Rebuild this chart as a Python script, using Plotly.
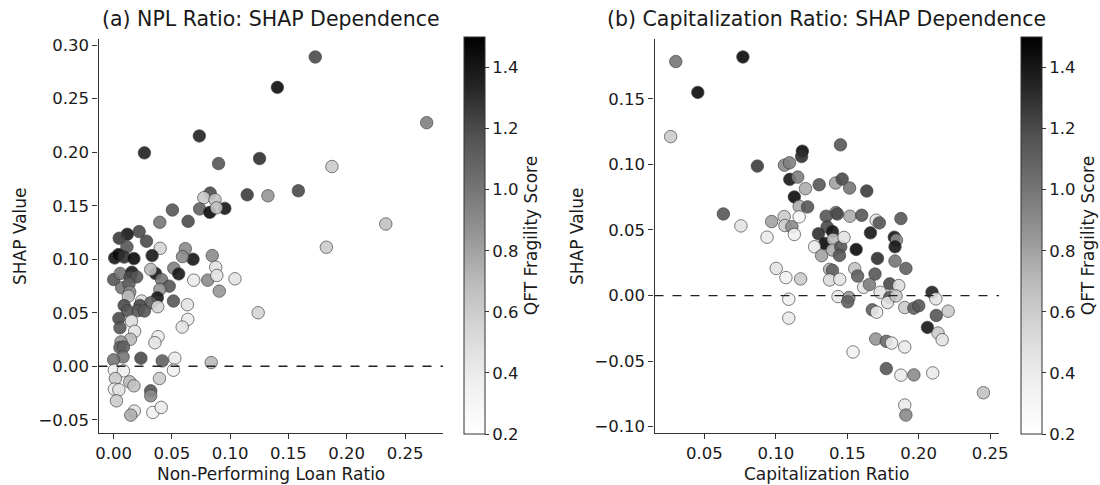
import plotly.graph_objects as go

# ---------------- data: panel (a) NPL ratio ----------------
npl_x = [0.173, 0.1405, 0.2686, 0.0735, 0.0264, 0.1252, 0.090, 0.1873, 0.1146, 0.1585,
         0.1324, 0.0828, 0.0774, 0.0870, 0.0738, 0.0825, 0.0954, 0.0882, 0.0504, 0.0639,
         0.0396, 0.2335, 0.0219, 0.0117, 0.0048, 0.0282, 0.0114, 0.1825, 0.0399, 0.0615,
         0.0009, 0.0042, 0.009, 0.0174, 0.033, 0.0681, 0.0591, 0.0846, 0.0, 0.0057,
         0.0156, 0.0141, 0.0198, 0.036, 0.0318, 0.0411, 0.0516, 0.0558, 0.0477, 0.0687,
         0.0807, 0.0876, 0.0885, 0.1041, 0.0906, 0.0069, 0.0132, 0.0138, 0.0126, 0.0396,
         0.0375, 0.024, 0.0318, 0.0513, 0.0633, 0.0378, 0.009, 0.012, 0.0225, 0.021,
         0.0264, 0.124, 0.0045, 0.0054, 0.0153, 0.018, 0.0144, 0.0636, 0.0588, 0.0381,
         0.0354, 0.0063, 0.0054, 0.0084, 0.0081, 0.0, 0.0234, 0.0417, 0.0525, 0.0837,
         0.0006, 0.0084, 0.0513, 0.0015, 0.0138, 0.0174, 0.0393, 0.0006, 0.0045, 0.0318,
         0.0318, 0.0024, 0.0177, 0.0147, 0.0336, 0.0408]
npl_shap = [0.289, 0.2606, 0.2276, 0.2152, 0.1994, 0.1941, 0.1894, 0.1866, 0.1602, 0.164,
            0.1593, 0.1618, 0.1575, 0.1556, 0.147, 0.1438, 0.1475, 0.148, 0.146, 0.1354,
            0.1345, 0.1329, 0.1258, 0.1233, 0.1196, 0.1168, 0.1115, 0.1112, 0.1102, 0.1099,
            0.1012, 0.1043, 0.102, 0.1006, 0.1034, 0.100, 0.1025, 0.1034, 0.081, 0.0866,
            0.0879, 0.0832, 0.0835, 0.0866, 0.0904, 0.081, 0.0916, 0.0863, 0.0748, 0.0804,
            0.0804, 0.0925, 0.0848, 0.0817, 0.0702, 0.0733, 0.077, 0.0693, 0.0655, 0.0717,
            0.064, 0.0609, 0.0593, 0.0609, 0.0575, 0.0556, 0.0568, 0.0519, 0.0568, 0.0519,
            0.0516, 0.050, 0.0447, 0.036, 0.0422, 0.0326, 0.0252, 0.0438, 0.0366, 0.0276,
            0.022, 0.0227, 0.0174, 0.018, 0.0087, 0.006, 0.0075, 0.005, 0.0075, 0.0034,
            -0.0037, -0.0043, -0.0037, -0.0115, -0.0146, -0.0183, -0.0115, -0.0214, -0.022, -0.023,
            -0.0276, -0.0323, -0.0419, -0.0457, -0.0432, -0.0385]
npl_qft = [1.2, 1.45, 0.95, 1.35, 1.35, 1.3, 1.15, 0.6, 1.25, 1.2,
           0.85, 1.2, 0.6, 0.65, 1.1, 1.45, 1.4, 0.65, 1.15, 1.2,
           1.0, 0.65, 1.2, 1.4, 1.25, 1.2, 1.15, 0.6, 0.55, 0.9,
           1.4, 1.45, 1.3, 1.45, 1.4, 1.4, 0.9, 0.9, 1.15, 1.0,
           1.4, 1.2, 1.15, 1.4, 0.7, 1.0, 0.95, 1.4, 1.15, 0.4,
           0.9, 0.45, 0.45, 0.45, 0.85, 1.0, 1.1, 0.9, 0.7, 0.85,
           1.4, 0.5, 1.1, 1.15, 0.45, 0.55, 1.2, 1.15, 1.2, 1.15,
           1.15, 0.55, 1.2, 1.15, 0.5, 0.45, 0.7, 0.4, 0.45, 0.4,
           0.45, 0.85, 1.1, 1.1, 1.0, 1.0, 1.2, 1.1, 0.4, 0.7,
           0.35, 0.35, 0.35, 0.6, 0.7, 0.65, 0.6, 0.4, 0.45, 1.15,
           0.9, 0.6, 0.45, 0.75, 0.35, 0.4]

# ---------------- data: panel (b) capitalization ratio ----------------
cap_x = [0.0299, 0.0769, 0.0453, 0.0263, 0.087, 0.0632, 0.0755, 0.0938, 0.097, 0.1002,
         0.107, 0.1173, 0.109, 0.109, 0.106, 0.1095, 0.1185, 0.118, 0.1097, 0.1153,
         0.1207, 0.1129, 0.1163, 0.1222, 0.1058, 0.1063, 0.1112, 0.1163, 0.1129, 0.1303,
         0.1418, 0.1464, 0.1452, 0.1516, 0.1636, 0.142, 0.143, 0.1352, 0.1359, 0.1298,
         0.1396, 0.1342, 0.1401, 0.1271, 0.132, 0.1396, 0.1454, 0.1477, 0.1445, 0.1562,
         0.1518, 0.1601, 0.1702, 0.1724, 0.1662, 0.1829, 0.1844, 0.1834, 0.1875, 0.1711,
         0.1834, 0.1910, 0.1376, 0.1396, 0.1376, 0.1447, 0.1552, 0.1572, 0.1694, 0.1614,
         0.1655, 0.1797, 0.186, 0.173, 0.1797, 0.1782, 0.1841, 0.1435, 0.1511, 0.1503,
         0.1675, 0.1705, 0.1902, 0.1966, 0.2, 0.2093, 0.212, 0.2123, 0.2206, 0.2061,
         0.2135, 0.2164, 0.1699, 0.1773, 0.181, 0.1902, 0.154, 0.1773, 0.1875, 0.1966,
         0.2098, 0.2453, 0.1902, 0.1910]
cap_shap = [0.1784, 0.1819, 0.1549, 0.1212, 0.0987, 0.0622, 0.0531, 0.0445, 0.0564, 0.0207,
            0.0137, 0.0127, -0.0028, -0.0172, 0.0994, 0.1012, 0.1101, 0.106, 0.0886, 0.0903,
            0.0815, 0.0752, 0.0681, 0.0676, 0.0602, 0.0534, 0.0524, 0.06, 0.0466, 0.0845,
            0.0858, 0.0888, 0.1149, 0.082, 0.0797, 0.0633, 0.0622, 0.0605, 0.0524, 0.0471,
            0.0488, 0.0397, 0.0428, 0.0372, 0.0304, 0.0347, 0.0372, 0.0443, 0.0306, 0.0352,
            0.0605, 0.0612, 0.0574, 0.0554, 0.0478, 0.0445, 0.0423, 0.0372, 0.0587, 0.0283,
            0.0263, 0.0207, 0.020, 0.0192, 0.0119, 0.0124, 0.0205, 0.0149, 0.0164, 0.0063,
            0.0084, 0.0089, 0.0076, 0.0025, -0.0015, -0.0053, -0.0003, -0.0008, -0.0015, -0.0048,
            -0.0109, -0.0127, -0.0091, -0.0096, -0.0078, 0.0025, -0.0025, -0.0152, -0.0119, -0.0243,
            -0.0286, -0.0337, -0.0331, -0.0349, -0.0362, -0.0392, -0.043, -0.0557, -0.0607, -0.0605,
            -0.059, -0.0741, -0.0835, -0.0911]
cap_qft = [1.0, 1.45, 1.45, 0.6, 1.25, 1.15, 0.45, 0.4, 0.8, 0.45,
           0.35, 0.6, 0.35, 0.4, 0.9, 0.95, 1.45, 1.3, 1.4, 0.95,
           0.75, 1.45, 0.75, 1.15, 0.6, 0.6, 0.9, 0.3, 0.35, 1.15,
           0.8, 1.2, 1.15, 1.0, 1.25, 1.0, 1.2, 1.15, 1.2, 1.3,
           1.4, 1.45, 0.7, 0.4, 0.8, 0.75, 1.15, 0.45, 1.15, 1.45,
           0.75, 1.15, 0.45, 1.15, 1.4, 1.4, 0.9, 1.4, 1.15, 1.3,
           1.0, 1.1, 0.7, 1.1, 0.5, 0.45, 0.65, 1.1, 1.15, 0.45,
           0.95, 1.2, 0.5, 0.45, 1.15, 0.45, 0.6, 0.4, 0.85, 1.1,
           1.1, 0.4, 0.6, 1.1, 1.15, 1.35, 0.45, 1.15, 0.6, 1.4,
           0.6, 0.45, 0.85, 1.05, 0.4, 0.4, 0.35, 1.15, 0.4, 0.9,
           0.4, 0.65, 0.4, 0.9]

titles = ["(a) NPL Ratio: SHAP Dependence", "(b) Capitalization Ratio: SHAP Dependence"]
x_titles = ["Non-Performing Loan Ratio", "Capitalization Ratio"]
y_title = "SHAP Value"
cb_title = "QFT Fragility Score"
cb_ticks = [0.2, 0.4, 0.6, 0.8, 1.0, 1.2, 1.4]
npl_xticks = [0.0, 0.05, 0.10, 0.15, 0.20, 0.25]
npl_yticks = [-0.05, 0.0, 0.05, 0.10, 0.15, 0.20, 0.25, 0.30]
cap_xticks = [0.05, 0.10, 0.15, 0.20, 0.25]
cap_yticks = [-0.10, -0.05, 0.0, 0.05, 0.10, 0.15]

# ---------------- layout helpers ----------------
W, H = 1100, 485
FONT = "DejaVu Sans"
TXT = "#1a1a1a"
greys = [[0, "#ffffff"], [0.125, "#f0f0f0"], [0.25, "#d9d9d9"], [0.375, "#bdbdbd"],
         [0.5, "#969696"], [0.625, "#737373"], [0.75, "#525252"], [0.875, "#252525"],
         [1, "#000000"]]

def px_x(p):
    return p / W

def px_y(p):
    return 1 - p / H

top_px, bot_px = 39, 433
dom_a = [px_x(98.5), px_x(443)]
dom_b = [px_x(654.5), px_x(999)]
dom_y = [px_y(bot_px), px_y(top_px)]

def cbar(xpix):
    return dict(
        x=px_x(xpix), xanchor="left", xpad=0,
        y=px_y(37), yanchor="top", ypad=0,
        len=(bot_px + 1 - 37) / H, lenmode="fraction",
        thickness=21, thicknessmode="pixels",
        outlinewidth=1, outlinecolor="#333",
        tickvals=cb_ticks, tickformat=".1f",
        ticks="outside", ticklen=4, tickwidth=1, tickcolor="#333",
        tickfont=dict(family=FONT, size=16.5, color=TXT),
        title=dict(text=cb_title, side="right", font=dict(family=FONT, size=17, color=TXT)),
    )

def mk(x, y, c, xa, ya, cbx):
    return go.Scatter(
        x=x, y=y, mode="markers", xaxis=xa, yaxis=ya, showlegend=False,
        marker=dict(size=12.5, color=c, colorscale=greys, cmin=0.2, cmax=1.5,
                    opacity=0.9, line=dict(color="#333333", width=0.7),
                    showscale=True, colorbar=cbar(cbx)),
    )

fig = go.Figure()
fig.add_trace(mk(npl_x, npl_shap, npl_qft, "x", "y", 464))
fig.add_trace(mk(cap_x, cap_shap, cap_qft, "x2", "y2", 1021))

def axis(domain, rng, ticks, anchor):
    return dict(
        domain=domain, range=rng, anchor=anchor, tickvals=ticks, tickformat=".2f",
        showline=True, linecolor="#333", linewidth=1.2, mirror=False,
        ticks="outside", ticklen=5, tickwidth=1.2, tickcolor="#333",
        showgrid=False, zeroline=False, automargin=False,
        tickfont=dict(family=FONT, size=16.5, color=TXT),
    )

fig.update_layout(
    width=W, height=H, template="none",
    paper_bgcolor="white", plot_bgcolor="white",
    margin=dict(l=0, r=0, t=0, b=0, autoexpand=False),
    font=dict(family=FONT, color=TXT),
    xaxis=axis(dom_a, [-0.0130, 0.2826], npl_xticks, "y"),
    yaxis=axis(dom_y, [-0.0624, 0.3058], npl_yticks, "x"),
    xaxis2=axis(dom_b, [0.0150, 0.2562], cap_xticks, "y2"),
    yaxis2=axis(dom_y, [-0.1048, 0.1956], cap_yticks, "x2"),
)

# dashed zero lines
for xr, yr in (("x domain", "y"), ("x2 domain", "y2")):
    fig.add_shape(type="line", xref=xr, yref=yr, x0=0, x1=1, y0=0, y1=0,
                  line=dict(color="#222", width=1.3, dash="dash"))

ann = []
for dom, t, xt in ((dom_a, titles[0], x_titles[0]), (dom_b, titles[1], x_titles[1])):
    cx = (dom[0] + dom[1]) / 2
    ann.append(dict(text=t, x=cx, y=px_y(19), xref="paper", yref="paper",
                    xanchor="center", yanchor="middle",
                    showarrow=False, font=dict(family=FONT, size=20.5, color=TXT)))
    ann.append(dict(text=xt, x=cx, y=px_y(474), xref="paper", yref="paper",
                    xanchor="center", yanchor="middle",
                    showarrow=False, font=dict(family=FONT, size=17, color=TXT)))
for xp in (20, 577):
    ann.append(dict(text=y_title, x=px_x(xp), y=px_y(236), xref="paper", yref="paper",
                    xanchor="center", yanchor="middle",
                    showarrow=False, textangle=-90, font=dict(family=FONT, size=17, color=TXT)))
fig.update_layout(annotations=ann)

fig.write_html(
    "out.html",
    config={"displayModeBar": False},
    post_script="document.body.style.margin='0px';document.body.style.overflow='hidden';",
)
